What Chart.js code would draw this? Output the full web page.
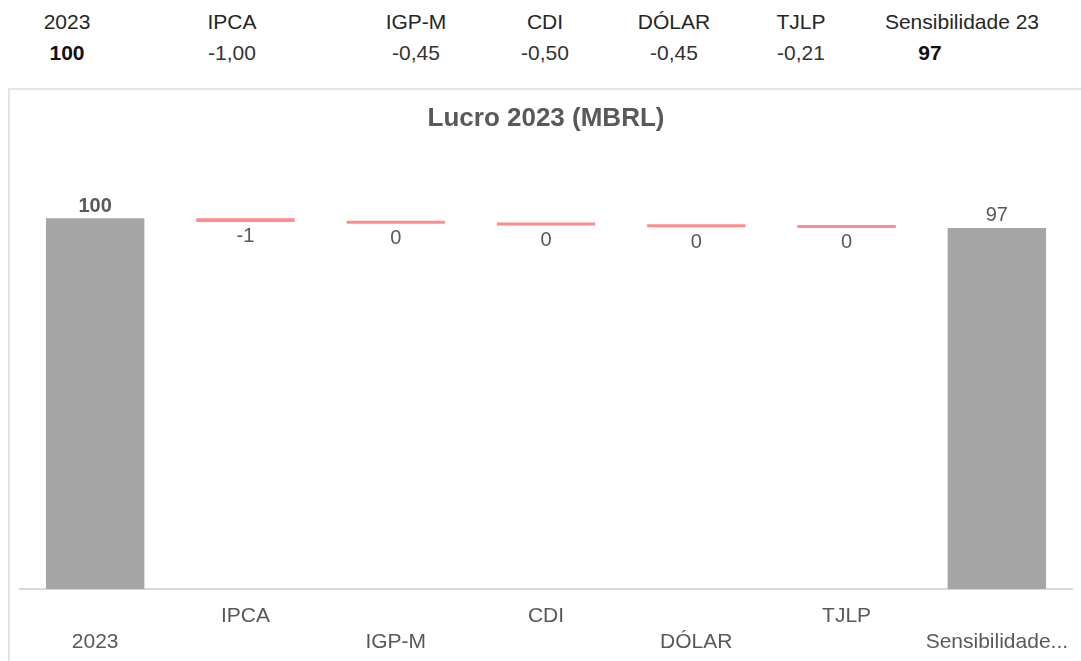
<!DOCTYPE html>
<html lang="pt-BR">
<head>
<meta charset="utf-8">
<title>Lucro 2023 (MBRL)</title>
<script src="https://cdn.jsdelivr.net/npm/chart.js@4/dist/chart.umd.min.js"></script>
<style>
  body { margin: 0; background: #fff; font-family: 'Liberation Sans', Arial, sans-serif; }
  #header { position: absolute; left: 0; top: 0; width: 1081px; height: 80px; }
  #header div { position: absolute; transform: translateX(-50%); white-space: nowrap; font-size: 21px; }
  #header .lbl { top: 10px; color: #262626; }
  #header .val { top: 41px; color: #333; }
  #header .val.bold { font-weight: bold; color: #111; }
  #frame { position: absolute; left: 8px; top: 88px; width: 1100px; height: 620px; border: 2px solid #e4e4e4; }
  #wrap { position: absolute; left: 0; top: 0; width: 1080px; height: 600px; }
</style>
</head>
<body>
<div id="header"></div>
<div id="frame"><div id="wrap"><canvas id="lucroChart"></canvas></div></div>
<script>
// dados do gráfico
const categories = ['2023', 'IPCA', 'IGP-M', 'CDI', 'DÓLAR', 'TJLP', 'Sensibilidade 23'];
const startValue = 100;
const impacts = [-1.00, -0.45, -0.50, -0.45, -0.21];
const tickLabels = ['2023', 'IPCA', 'IGP-M', 'CDI', 'DÓLAR', 'TJLP', 'Sensibilidade...'];

// posição horizontal das colunas do cabeçalho
const headerLabelX = [67, 232, 416, 545, 674, 801, 962];
const headerValueX = [67, 232, 416, 545, 674, 801, 930];

const endValue = impacts.reduce((acc, v) => acc + v, startValue);

function fmt(v) {
  return v.toFixed(2).replace('.', ',');
}

function buildHeader() {
  const header = document.getElementById('header');
  const values = [String(startValue)].concat(impacts.map(fmt), [String(Math.round(endValue))]);
  categories.forEach((cat, i) => {
    const lbl = document.createElement('div');
    lbl.className = 'lbl';
    lbl.style.left = headerLabelX[i] + 'px';
    lbl.textContent = cat;
    header.appendChild(lbl);

    const val = document.createElement('div');
    const isTotal = i === 0 || i === categories.length - 1;
    val.className = isTotal ? 'val bold' : 'val';
    val.style.left = headerValueX[i] + 'px';
    val.textContent = values[i];
    header.appendChild(val);
  });
}

// barras flutuantes da cascata
function buildBars() {
  const bars = [[0, startValue]];
  let running = startValue;
  impacts.forEach((v) => {
    bars.push([running + v, running]);
    running += v;
  });
  bars.push([0, endValue]);
  return bars;
}

const barLabels = {
  id: 'barLabels',
  afterDatasetsDraw(chart) {
    const ctx = chart.ctx;
    const meta = chart.getDatasetMeta(0);
    ctx.save();
    ctx.textAlign = 'center';
    meta.data.forEach((el, i) => {
      const top = Math.min(el.y, el.base);
      const bottom = Math.max(el.y, el.base);
      if (i === 0 || i === categories.length - 1) {
        const v = i === 0 ? startValue : endValue;
        ctx.font = (i === 0 ? 'bold ' : '') + '20px "Liberation Sans", Arial, sans-serif';
        ctx.fillStyle = '#595959';
        ctx.textBaseline = 'bottom';
        ctx.fillText(String(Math.round(v)), el.x, top - 2);
      } else {
        const v = Math.round(impacts[i - 1]) || 0;
        ctx.font = '20px "Liberation Sans", Arial, sans-serif';
        ctx.fillStyle = '#595959';
        ctx.textBaseline = 'top';
        ctx.fillText(String(v), el.x, bottom + 5);
      }
    });
    ctx.restore();
  }
};

function drawChart() {
  const ctx = document.getElementById('lucroChart').getContext('2d');
  const last = categories.length - 1;

  new Chart(ctx, {
    type: 'bar',
    data: {
      labels: categories,
      datasets: [{
        data: buildBars(),
        backgroundColor: (c) => (c.dataIndex === 0 || c.dataIndex === last) ? '#a5a5a5' : '#ff8c8c',
        borderWidth: 0,
        barPercentage: 0.655,
        categoryPercentage: 1,
        minBarLength: 3
      }]
    },
    options: {
      responsive: true,
      maintainAspectRatio: false,
      animation: false,
      layout: { padding: { left: 10, right: 18, top: 0, bottom: 21 } },
      plugins: {
        legend: { display: false },
        tooltip: { enabled: false },
        title: {
          display: true,
          text: 'Lucro 2023 (MBRL)',
          color: '#595959',
          font: { family: '"Liberation Sans", Arial, sans-serif', size: 26, weight: 'bold' },
          padding: { top: 13, bottom: 47 }
        }
      },
      scales: {
        x: {
          grid: { display: false, drawTicks: false },
          border: { display: true, color: '#d9d9d9', width: 2 },
          ticks: {
            color: '#595959',
            padding: 14,
            maxRotation: 0,
            autoSkip: false,
            font: { family: '"Liberation Sans", Arial, sans-serif', size: 21, lineHeight: 26 / 21 },
            // rótulos alternados em duas linhas
            callback: (value, index) => index % 2 === 0 ? ['', tickLabels[index]] : [tickLabels[index], '']
          }
        },
        y: {
          display: false,
          min: 0,
          max: 110
        }
      }
    },
    plugins: [barLabels]
  });
}

document.addEventListener('DOMContentLoaded', function() {
  buildHeader();
  drawChart();
});
</script>
</body>
</html>
